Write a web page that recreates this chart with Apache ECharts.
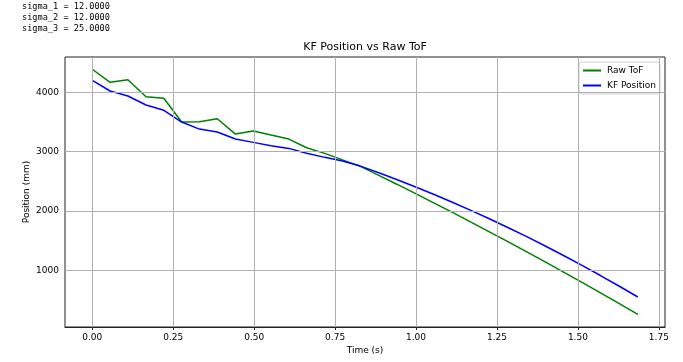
<!DOCTYPE html>
<html>
<head>
<meta charset="utf-8">
<script src="https://cdn.jsdelivr.net/npm/echarts@6/dist/echarts.min.js"></script>
<style>
html,body{margin:0;padding:0;background:#fff;}
#chart{width:683px;height:362px;}
</style>
</head>
<body>
<div id="chart"></div>
<script>
// Data
const timeS = [0, 0.055, 0.110, 0.166, 0.221, 0.276, 0.331, 0.386, 0.442, 0.497, 0.552, 0.607, 0.662, 0.718, 0.773,
  0.828, 0.885, 0.942, 0.999, 1.056, 1.114, 1.171, 1.228, 1.285, 1.342, 1.399, 1.457, 1.514, 1.571, 1.628, 1.685];
const rawToF = [4388, 4168, 4212, 3926, 3899, 3499, 3505, 3555, 3297, 3348, 3280, 3213, 3066, 2972, 2862,
  2754, 2603, 2449, 2294, 2136, 1974, 1812, 1648, 1482, 1315, 1145, 970, 797, 621, 443, 263];
const kfPosition = [4202, 4022, 3938, 3786, 3697, 3499, 3381, 3331, 3213, 3157, 3100, 3056, 2975, 2905, 2843,
  2758, 2646, 2529, 2407, 2280, 2146, 2009, 1868, 1721, 1570, 1413, 1249, 1083, 912, 736, 555];
const xTicks = [0, 0.25, 0.5, 0.75, 1.0, 1.25, 1.5, 1.75];
const yTicks = [1000, 2000, 3000, 4000];
const sigmaLines = ['sigma_1 = 12.0000', 'sigma_2 = 12.0000', 'sigma_3 = 25.0000'];
const titleText = 'KF Position vs Raw ToF';
const seriesNames = ['Raw ToF', 'KF Position'];

const chart = echarts.init(document.getElementById('chart'), null, {renderer: 'canvas'});
const font = 'DejaVu Sans';
const pairs = (xs, ys) => xs.map((x, i) => [x, ys[i]]);

const gridLines = [];
xTicks.forEach(v => gridLines.push({xAxis: v}));
yTicks.forEach(v => gridLines.push({yAxis: v}));

const option = {
  animation: false,
  backgroundColor: '#fff',
  textStyle: {fontFamily: font},
  grid: {left: 65, right: 18, top: 57, bottom: 35, show: true, borderColor: '#222', borderWidth: 1, containLabel: false},
  graphic: [
    ...sigmaLines.map((t, i) => ({
      type: 'text', left: 22, top: 2 + i * 11, silent: true,
      style: {text: t, font: '8.6px "DejaVu Sans Mono"', fill: '#000'}
    })),
    {
      type: 'text', x: 365, y: 42, silent: true,
      style: {text: titleText, font: '11px "DejaVu Sans"', fill: '#000', textAlign: 'center', textVerticalAlign: 'top'}
    }
  ],
  legend: {
    data: seriesNames,
    orient: 'vertical',
    right: 23, top: 62,
    icon: 'rect', itemWidth: 18, itemHeight: 2, itemGap: 6,
    backgroundColor: 'rgba(255,255,255,0.8)',
    borderColor: '#d0d0d0', borderWidth: 1, borderRadius: 3,
    padding: [4, 4, 4, 4],
    textStyle: {fontSize: 9, fontFamily: font, color: '#000', padding: [0, 0, 0, 1]}
  },
  xAxis: {
    type: 'value', min: -0.0843, max: 1.769,
    name: 'Time (s)', nameLocation: 'middle', nameGap: 19, nameMoveOverlap: false,
    nameTextStyle: {fontSize: 9, color: '#000', fontFamily: font},
    axisLine: {show: true, lineStyle: {color: '#222', width: 1}},
    axisTick: {show: true, length: 3, lineStyle: {color: '#222'}, customValues: xTicks},
    axisLabel: {show: true, fontSize: 9, color: '#000', margin: 6, customValues: xTicks, formatter: v => v.toFixed(2)},
    splitLine: {show: false}
  },
  yAxis: {
    type: 'value', min: 50, max: 4594,
    name: 'Position (mm)', nameLocation: 'middle', nameGap: 34, nameMoveOverlap: false,
    nameTextStyle: {fontSize: 9, color: '#000', fontFamily: font},
    axisLine: {show: true, lineStyle: {color: '#222', width: 1}},
    axisTick: {show: true, length: 3, lineStyle: {color: '#222'}, customValues: yTicks},
    axisLabel: {show: true, fontSize: 9, color: '#000', margin: 6, customValues: yTicks, formatter: v => String(v)},
    splitLine: {show: false}
  },
  series: [
    {
      name: 'gridlines', type: 'line', data: [], z: 1, silent: true,
      markLine: {
        silent: true, symbol: ['none', 'none'], animation: false,
        label: {show: false},
        lineStyle: {color: '#b0b0b0', width: 1, type: 'solid'},
        emphasis: {disabled: true},
        data: gridLines
      }
    },
    {
      name: seriesNames[0], type: 'line', data: pairs(timeS, rawToF), z: 3,
      showSymbol: false, symbol: 'none',
      itemStyle: {color: '#008000'},
      lineStyle: {color: '#008000', width: 1.5}
    },
    {
      name: seriesNames[1], type: 'line', data: pairs(timeS, kfPosition), z: 4,
      showSymbol: false, symbol: 'none',
      itemStyle: {color: '#0000ff'},
      lineStyle: {color: '#0000ff', width: 1.5}
    }
  ]
};
chart.setOption(option);
</script>
</body>
</html>
